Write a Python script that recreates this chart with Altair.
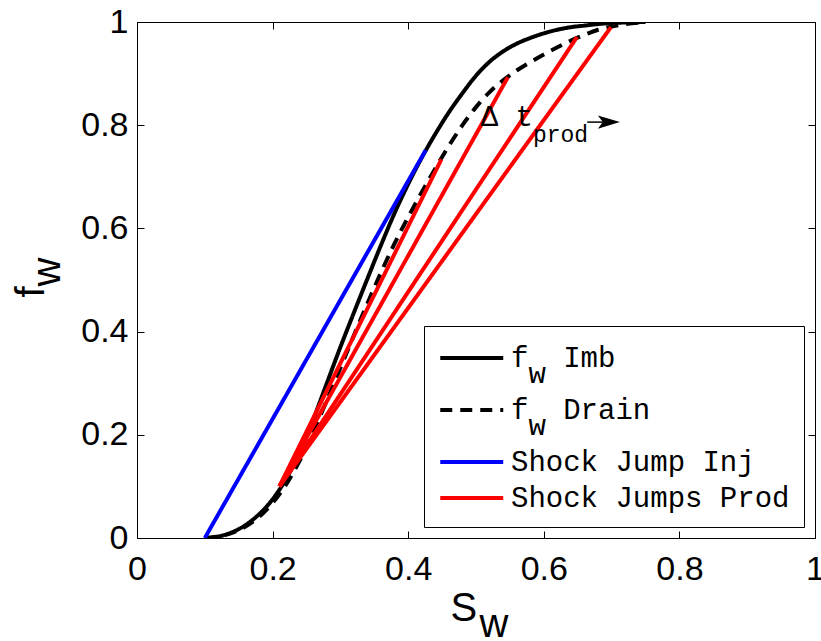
import altair as alt
import pandas as pd

# ---------------- data ----------------
S_GRID = [0.10, 0.12, 0.14, 0.16, 0.18, 0.20, 0.22, 0.24, 0.26, 0.28, 0.30,
          0.32, 0.34, 0.36, 0.38, 0.40, 0.42, 0.44, 0.46, 0.48, 0.50, 0.52,
          0.54, 0.56, 0.58, 0.60, 0.62, 0.64, 0.66, 0.68, 0.70, 0.72, 0.75]
F_IMB = [0.000, 0.003, 0.011, 0.025, 0.046, 0.075, 0.115, 0.167, 0.230, 0.300, 0.370,
         0.437, 0.503, 0.568, 0.630, 0.686, 0.737, 0.783, 0.825, 0.862, 0.896, 0.923,
         0.943, 0.958, 0.969, 0.978, 0.985, 0.990, 0.993, 0.996, 0.998, 0.999, 1.000]
F_DRAIN = [0.000, 0.003, 0.010, 0.022, 0.041, 0.068, 0.104, 0.150, 0.205, 0.267, 0.330,
           0.393, 0.455, 0.515, 0.571, 0.622, 0.670, 0.716, 0.760, 0.800, 0.835, 0.864,
           0.887, 0.906, 0.922, 0.937, 0.951, 0.964, 0.975, 0.985, 0.991, 0.996, 0.999]

INJ_S = [0.10, 0.426]
INJ_F = [0.000, 0.752]

PROD_START_S = [0.21, 0.21, 0.21, 0.21]
PROD_START_F = [0.100, 0.100, 0.100, 0.100]
PROD_END_S = [0.449, 0.547, 0.649, 0.699]
PROD_END_F = [0.734, 0.893, 0.971, 0.990]

SERIES = ["Imb", "Drain", "Inj", "Prod"]
SERIES_COLORS = ["#000000", "#000000", "#0000ff", "#ff0000"]
SERIES_DASH = [[1, 0], [12, 8], [1, 0], [1, 0]]

TICKS = [0, 0.2, 0.4, 0.6, 0.8, 1]

ANNOT_MAIN = ["\u0394 t"]
ANNOT_MAIN_S = [0.507]
ANNOT_MAIN_F = [0.816]
ANNOT_SUB = ["prod"]
ANNOT_SUB_S = [0.584]
ANNOT_SUB_F = [0.781]
ARROW_S = [0.664, 0.705]
ARROW_F = [0.806, 0.806]

NB = "\u00a0"   # non-breaking space
ZW = "\u200b"   # zero-width char so the leading space is not trimmed

# ---------------- tables ----------------
rows = []
for s, f in zip(S_GRID, F_IMB):
    rows.append({"S": s, "f": f, "series": "Imb", "seg": "imb"})
for s, f in zip(S_GRID, F_DRAIN):
    rows.append({"S": s, "f": f, "series": "Drain", "seg": "drain"})
for s, f in zip(INJ_S, INJ_F):
    rows.append({"S": s, "f": f, "series": "Inj", "seg": "inj"})
for i in range(len(PROD_END_S)):
    rows.append({"S": PROD_START_S[i], "f": PROD_START_F[i], "series": "Prod", "seg": f"p{i}"})
    rows.append({"S": PROD_END_S[i], "f": PROD_END_F[i], "series": "Prod", "seg": f"p{i}"})
df = pd.DataFrame(rows)

main_df = pd.DataFrame({"S": ANNOT_MAIN_S, "f": ANNOT_MAIN_F, "t": ANNOT_MAIN})
sub_df = pd.DataFrame({"S": ANNOT_SUB_S, "f": ANNOT_SUB_F, "t": ANNOT_SUB})
arrow_df = pd.DataFrame({"S": ARROW_S, "f": ARROW_F})
head_df = pd.DataFrame({"S": [ARROW_S[1] - 0.009], "f": [ARROW_F[1]]})

W, H = 678, 516
SANS = "Liberation Sans"
MONO = "Liberation Mono"

xs = alt.Scale(domain=[0, 1], nice=False, zero=False)
ys = alt.Scale(domain=[0, 1], nice=False, zero=False)

common_axis = dict(values=TICKS, grid=False, domain=False, labelFlush=False,
                   labelOverlap=False, labelBound=False)

x_main = alt.X("S:Q", scale=xs, axis=alt.Axis(
    **common_axis, format="~g", ticks=False, labelFont=SANS, labelFontSize=34,
    labelColor="black", labelPadding=14,
    title=["S", ZW + NB + NB + "\u2006w"], titleFont=SANS, titleFontSize=40,
    titleFontWeight="normal", titleColor="black", titleAlign="left",
    titleBaseline="alphabetic", titleAnchor="start", titleX=313, titleY=82,
    titleLineHeight=16, titleAngle=0))
y_main = alt.Y("f:Q", scale=ys, axis=alt.Axis(
    **common_axis, format="~g", ticks=False, labelFont=SANS, labelFontSize=34,
    labelColor="black", labelPadding=9,
    title=["f", ZW + NB + "w"], titleFont=SANS, titleFontSize=40, titleFontWeight="normal",
    titleColor="black", titleAlign="left", titleBaseline="alphabetic",
    titleAnchor="start", titleAngle=270, titleX=-94, titleY=275, titleLineHeight=16))

legend_expr = (f"datum.label == 'Imb' ? ['f{NB}{NB}Imb', '{ZW}{NB}w'] : datum.label == 'Drain' ? "
               f"['f{NB}{NB}Drain', '{ZW}{NB}w'] : datum.label == 'Inj' ? 'Shock Jump Inj' : 'Shock Jumps Prod'")
leg = alt.Legend(title=None, orient="none", legendX=287, legendY=304,
                 labelExpr=legend_expr, labelFont=MONO, labelFontSize=29,
                 labelColor="black", labelLimit=600, labelOffset=37,
                 symbolType="M-1,0H3", symbolSize=992, symbolStrokeWidth=4,
                 strokeColor="black", fillColor="white", padding=14,
                 rowPadding=3, cornerRadius=0)

lines = alt.Chart(df).mark_line(strokeWidth=4, interpolate="monotone", clip=True).encode(
    x=x_main,
    y=y_main,
    color=alt.Color("series:N", scale=alt.Scale(domain=SERIES, range=SERIES_COLORS), legend=leg),
    strokeDash=alt.StrokeDash("series:N", scale=alt.Scale(domain=SERIES, range=SERIES_DASH), legend=leg),
    detail="seg:N",
)

tick_axis = dict(values=TICKS, grid=False, domain=False, labels=False, title=None,
                 tickSize=7, tickColor="black", tickWidth=1)

ticks_a = alt.Chart(df).mark_point(opacity=0).encode(
    x=alt.X("S:Q", scale=xs, axis=alt.Axis(**tick_axis, orient="top", offset=-H)),
    y=alt.Y("f:Q", scale=ys, axis=alt.Axis(**tick_axis, orient="right", offset=-W)),
)
ticks_b = alt.Chart(df).mark_point(opacity=0).encode(
    x=alt.X("S:Q", scale=xs, axis=alt.Axis(**tick_axis, orient="bottom", offset=-H)),
    y=alt.Y("f:Q", scale=ys, axis=alt.Axis(**tick_axis, orient="left", offset=-W)),
)

xn = alt.X("S:Q", scale=xs, axis=None)
yn = alt.Y("f:Q", scale=ys, axis=None)

annot_main = alt.Chart(main_df).mark_text(font=MONO, fontSize=29, align="left",
                                          baseline="middle", color="black").encode(
    x=xn, y=yn, text="t:N")
annot_sub = alt.Chart(sub_df).mark_text(font=MONO, fontSize=23, align="left",
                                        baseline="middle", color="black").encode(
    x=xn, y=yn, text="t:N")

arrow = alt.Chart(arrow_df).mark_line(color="black", strokeWidth=1.5).encode(x=xn, y=yn)

head = alt.Chart(head_df).mark_point(
    shape="M-1,-0.6L1,0L-1,0.6L-0.55,0Z", size=484, filled=True,
    color="black", opacity=1).encode(x=xn, y=yn)

chart = alt.layer(lines, ticks_a, ticks_b, annot_main, annot_sub, arrow, head).resolve_axis(
    x="independent", y="independent"
).properties(
    width=W, height=H,
    autosize=alt.AutoSizeParams(type="none"),
    padding={"left": 137, "top": 22, "right": 6, "bottom": 103},
    background="white",
).configure(
    style={"guide-label": {"lineHeight": 16}}
).configure_view(
    stroke="black", strokeWidth=1
)

chart.save("out.html", embed_options={"renderer": "svg", "actions": False})
